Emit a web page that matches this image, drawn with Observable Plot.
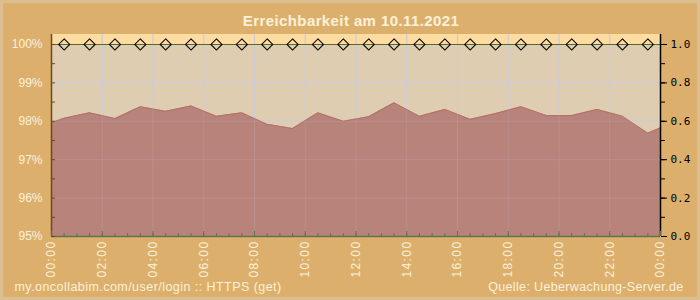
<!DOCTYPE html>
<html><head><meta charset="utf-8">
<script src="https://cdn.jsdelivr.net/npm/d3@7"></script>
<script src="https://cdn.jsdelivr.net/npm/@observablehq/plot@0.6"></script>
<style>
html,body{margin:0;padding:0;background:#dcb06c;}
#chart svg{display:block;
  background:
    radial-gradient(ellipse 260px 90px at 250px 280px, rgba(235,200,140,0.55), rgba(235,200,140,0) 100%),
    radial-gradient(ellipse 200px 120px at 560px 60px, rgba(235,200,145,0.45), rgba(235,200,145,0) 100%),
    linear-gradient(160deg, #d8a75e 0%, #ddb370 35%, #e0b97b 65%, #dcb06c 100%);
  box-shadow: inset 0 0 0 3px #dcbf90;}
</style></head><body><div id="chart"></div>
<script>
// availability (%) at each point in time, hours since 00:00
const hours = [0, 0.5, 1.5, 2.5, 3.5, 4.5, 5.5, 6.5, 7.5, 8.5, 9.5, 10.5, 11.5, 12.5, 13.5, 14.5, 15.5, 16.5, 17.5, 18.5, 19.5, 20.5, 21.5, 22.5, 23.5, 24];
const availability = [97.96, 98.08, 98.22, 98.07, 98.38, 98.26, 98.40, 98.13, 98.22, 97.92, 97.81, 98.22, 98.00, 98.12, 98.48, 98.13, 98.31, 98.05, 98.20, 98.38, 98.15, 98.15, 98.31, 98.13, 97.69, 97.83];
// status checks (right axis, 0..1)
const statusHours = [0.5, 1.5, 2.5, 3.5, 4.5, 5.5, 6.5, 7.5, 8.5, 9.5, 10.5, 11.5, 12.5, 13.5, 14.5, 15.5, 16.5, 17.5, 18.5, 19.5, 20.5, 21.5, 22.5, 23.5];
const status = [1, 1, 1, 1, 1, 1, 1, 1, 1, 1, 1, 1, 1, 1, 1, 1, 1, 1, 1, 1, 1, 1, 1, 1];
// tick labels
const leftTicks = [95, 96, 97, 98, 99, 100];
const leftTickLabels = ["95%", "96%", "97%", "98%", "99%", "100%"];
const rightTicks = [0, 0.2, 0.4, 0.6, 0.8, 1.0];
const rightTickLabels = ["0.0", "0.2", "0.4", "0.6", "0.8", "1.0"];
const xTicks = [0, 2, 4, 6, 8, 10, 12, 14, 16, 18, 20, 22, 24];
const xTickLabels = ["00:00", "02:00", "04:00", "06:00", "08:00", "10:00", "12:00", "14:00", "16:00", "18:00", "20:00", "22:00", "00:00"];
const title = "Erreichbarkeit am 10.11.2021";
const captionLeft = "my.oncollabim.com/user/login :: HTTPS (get)";
const captionRight = "Quelle: Ueberwachung-Server.de";

const yMin = 95, yMax = 100, yTop = 100.26;
const toLeft = v => yMin + (yMax - yMin) * v;
const series = hours.map((h, i) => ({h, v: availability[i]}));
const checks = statusHours.map((h, i) => ({h, s: status[i]}));
const halfHours = d3.range(0, 24.001, 0.5);
const halfPercents = d3.range(95, 100.001, 0.5);
const tenths = d3.range(0, 1.0001, 0.1).map(toLeft);
const rightPos = rightTicks.map(toLeft);
const cream = "#fcf1da";
const gridColor = "#d1d4e0";

const chart = Plot.plot({
  width: 700, height: 300,
  marginLeft: 51, marginRight: 40, marginTop: 34, marginBottom: 64,
  style: {fontFamily: "'Liberation Sans', Arial, sans-serif", background: "transparent", overflow: "visible"},
  x: {domain: [0, 24], axis: null},
  y: {domain: [yMin, yTop], axis: null},
  marks: [
    Plot.rect([0], {x1: 0, x2: 24, y1: yMin, y2: yMax, fill: "#dfcdb1"}),
    Plot.rect([0], {x1: 0, x2: 24, y1: yMax, y2: yTop, fill: "#fddca1"}),
    Plot.ruleX(xTicks.slice(1, -1), {stroke: gridColor, strokeWidth: 1.2}),
    Plot.ruleY(leftTicks.slice(1, -1), {stroke: gridColor, strokeWidth: 1.2}),
    Plot.areaY(series, {x: "h", y1: yMin, y2: "v", fill: "#b8837a"}),
    Plot.lineY(series, {x: "h", y: "v", stroke: "#b2706a", strokeWidth: 1}),
    Plot.ruleX(xTicks.slice(1, -1), {stroke: "#c7b0c0", strokeOpacity: 0.25}),
    Plot.ruleY(leftTicks.slice(1, -1), {x1: 0, x2: 24, stroke: "#c7b0c0", strokeOpacity: 0.25}),
    Plot.ruleY([yMax], {stroke: "#5b6a2c", strokeWidth: 1.2}),
    Plot.dot(checks, {x: "h", y: d => toLeft(d.s), symbol: "diamond2", r: 5, stroke: "black", fill: "none", strokeWidth: 1.1}),
    // axis lines
    Plot.ruleY([yMin], {stroke: "#5f7350", strokeWidth: 1.5}),
    Plot.ruleX([0], {stroke: "#6b4a1e", strokeWidth: 1.5}),
    Plot.ruleX([24], {stroke: "black", strokeWidth: 1.5}),
    // left axis
    Plot.axisY(halfPercents, {anchor: "left", tickSize: 4, dx: 4, text: null, label: null, stroke: "#6b4a1e"}),
    Plot.axisY(leftTicks, {anchor: "left", tickSize: 0, tickPadding: 9, label: null,
      tickFormat: d => leftTickLabels[leftTicks.indexOf(d)], fill: cream, fontSize: 12}),
    // right axis
    Plot.axisY(tenths, {anchor: "right", tickSize: 4, text: null, label: null, stroke: "black"}),
    Plot.axisY(rightPos, {anchor: "right", tickSize: 6, tickPadding: 4, stroke: "black", fill: "black", label: null,
      tickFormat: d => rightTickLabels[rightPos.indexOf(d)], fontFamily: "'DejaVu Sans Mono', monospace", fontSize: 11}),
    // bottom axis
    Plot.axisX(halfHours, {anchor: "bottom", tickSize: 3, dy: -3, text: null, label: null, stroke: "#5f7350"}),
    Plot.axisX(xTicks, {anchor: "bottom", tickSize: 5, dy: -5, text: null, label: null, stroke: "#5f7350"}),
    Plot.axisX(xTicks, {anchor: "bottom", tickSize: 0, tickPadding: 4, tickRotate: -90, fill: cream, fontSize: 12, label: null,
      tickFormat: d => xTickLabels[xTicks.indexOf(d)]}),
    // texts
    Plot.text([title], {frameAnchor: "top", dx: -5, dy: -13, lineAnchor: "middle", fill: cream, fontSize: 15, fontWeight: "bold"}),
    Plot.text([captionLeft], {frameAnchor: "bottom-left", dx: -37, dy: 50, textAnchor: "start", lineAnchor: "middle", fill: cream, fontSize: 12.5}),
    Plot.text([captionRight], {frameAnchor: "bottom-right", dx: 23, dy: 50, textAnchor: "end", lineAnchor: "middle", fill: cream, fontSize: 12.5})
  ]
});
document.getElementById("chart").appendChild(chart);
const texts = d3.select(chart).selectAll("text");
texts.filter(function () { return xTickLabels.includes(this.textContent); }).style("letter-spacing", "1.4px");
texts.filter(function () { return this.textContent === title; }).style("letter-spacing", "0.4px");
texts.filter(function () { return this.textContent === captionLeft; }).style("letter-spacing", "0.45px");
texts.filter(function () { return this.textContent === captionRight; }).style("letter-spacing", "0.35px");
</script>
</body></html>
